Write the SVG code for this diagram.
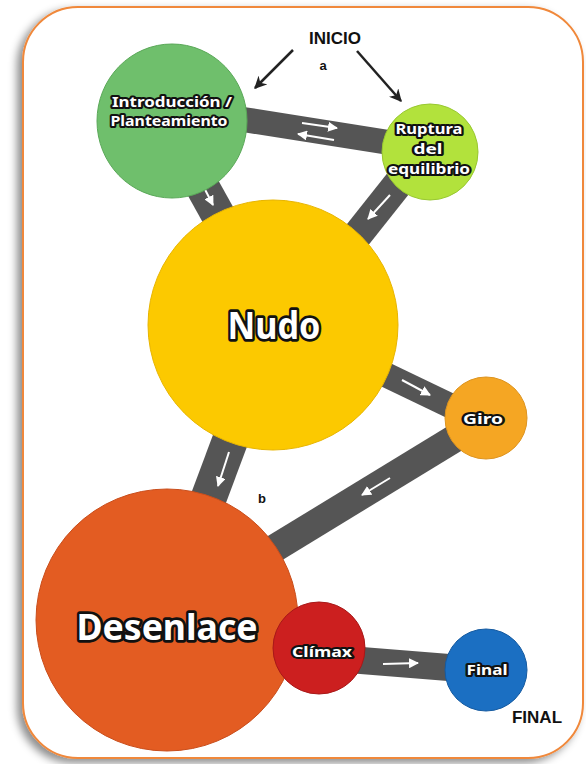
<svg xmlns="http://www.w3.org/2000/svg" width="586" height="764" viewBox="0 0 586 764">
<defs>
<filter id="sh" x="-10%" y="-10%" width="120%" height="120%">
<feGaussianBlur in="SourceAlpha" stdDeviation="4"/>
<feOffset dx="-5" dy="4" result="b"/>
<feFlood flood-color="#000" flood-opacity="0.45"/>
<feComposite in2="b" operator="in"/>
<feMerge><feMergeNode/><feMergeNode in="SourceGraphic"/></feMerge>
</filter>
<marker id="ab" viewBox="0 0 10 10" refX="9" refY="5" markerWidth="5" markerHeight="5" orient="auto" markerUnits="strokeWidth">
<path d="M0,0 L10,5 L0,10 L3,5 Z" fill="#222"/>
</marker>
<marker id="aw" viewBox="0 0 10 10" refX="9" refY="5" markerWidth="5" markerHeight="5" orient="auto" markerUnits="strokeWidth">
<path d="M0,0 L10,5 L0,10 Z" fill="#fff"/>
</marker>
<style>
.road{stroke:#555;stroke-linecap:butt;fill:none}
.wa{stroke:#fff;stroke-width:2;fill:none;marker-end:url(#aw)}
.ba{stroke:#222;stroke-width:2.5;fill:none;marker-end:url(#ab)}
.lbl{font-family:"Noto Sans","Open Sans",sans-serif;font-weight:bold;fill:#fff;stroke:#111;stroke-width:4;stroke-linejoin:round;paint-order:stroke;text-anchor:middle}
.big{stroke-width:5.5}
.plain{font-family:"Liberation Sans",Arial,sans-serif;font-weight:bold;fill:#111;text-anchor:middle}
</style>
</defs>
<rect x="23" y="7" width="560" height="751" rx="55" ry="55" fill="#fff" stroke="#f0883a" stroke-width="2" filter="url(#sh)"/>

<g id="connectors">
<line class="road" x1="240" y1="119" x2="392" y2="143" stroke-width="25"/>
<line class="road" x1="192" y1="168" x2="222" y2="222" stroke-width="34"/>
<line class="road" x1="405" y1="175" x2="355" y2="238" stroke-width="30"/>
<line class="road" x1="380" y1="372" x2="455" y2="408" stroke-width="25"/>
<line class="road" x1="234" y1="430" x2="206" y2="505" stroke-width="36"/>
<line class="road" x1="462" y1="434" x2="262" y2="556" stroke-width="28"/>
<line class="road" x1="355" y1="660" x2="455" y2="668" stroke-width="27"/>
<line class="wa" x1="302" y1="123" x2="337" y2="128"/>
<line class="wa" x1="334" y1="140" x2="298" y2="134"/>
<line class="wa" x1="198" y1="176" x2="213" y2="205"/>
<line class="wa" x1="390" y1="195" x2="368" y2="219"/>
<line class="wa" x1="402" y1="380" x2="430" y2="395"/>
<line class="wa" x1="229" y1="452" x2="218" y2="486"/>
<line class="wa" x1="390" y1="478" x2="362" y2="495"/>
<line class="wa" x1="383" y1="664" x2="418" y2="663"/>
<line class="ba" x1="293" y1="50" x2="255" y2="88"/>
<line class="ba" x1="357" y1="51" x2="401" y2="101"/>
</g>

<g id="introduccion">
<ellipse cx="172" cy="121" rx="75" ry="77" fill="#6fbf6c" stroke="#5aa858" stroke-width="1"/>
<text class="lbl" x="172" y="107" font-size="15" textLength="120" lengthAdjust="spacingAndGlyphs">Introducción /</text>
<text class="lbl" x="169" y="126" font-size="15" textLength="117" lengthAdjust="spacingAndGlyphs">Planteamiento</text>
</g>

<g id="ruptura">
<ellipse cx="430" cy="152" rx="48" ry="48" fill="#b2e23c" stroke="#98c830" stroke-width="1"/>
<text class="lbl" x="429" y="134" font-size="14" textLength="67" lengthAdjust="spacingAndGlyphs">Ruptura</text>
<text class="lbl" x="428" y="154" font-size="14" textLength="29" lengthAdjust="spacingAndGlyphs">del</text>
<text class="lbl" x="429" y="174" font-size="14" textLength="82" lengthAdjust="spacingAndGlyphs">equilibrio</text>
</g>

<g id="nudo">
<circle cx="273" cy="325" r="125" fill="#fcc900" stroke="#e8b500" stroke-width="1"/>
<text class="lbl big" x="274" y="339" font-size="38" textLength="93" lengthAdjust="spacingAndGlyphs">Nudo</text>
</g>

<g id="giro">
<circle cx="486" cy="418" r="41" fill="#f5a623" stroke="#dd9420" stroke-width="1"/>
<text class="lbl" x="483" y="424" font-size="14" textLength="40" lengthAdjust="spacingAndGlyphs">Giro</text>
</g>

<g id="desenlace">
<circle cx="167" cy="620" r="131" fill="#e35c22" stroke="#c94e1c" stroke-width="1"/>
<text class="lbl big" x="167" y="640" font-size="36" textLength="181" lengthAdjust="spacingAndGlyphs">Desenlace</text>
</g>

<g id="climax">
<circle cx="319" cy="648" r="46" fill="#cc1f1f" stroke="#a81818" stroke-width="1"/>
<text class="lbl" x="322" y="657" font-size="14" textLength="60" lengthAdjust="spacingAndGlyphs">Clímax</text>
</g>

<g id="final">
<circle cx="486" cy="670" r="41" fill="#1b6fc2" stroke="#155aa0" stroke-width="1"/>
<text class="lbl" x="487" y="675" font-size="14" textLength="41" lengthAdjust="spacingAndGlyphs">Final</text>
</g>

<g id="labels">
<text class="plain" x="335" y="44" font-size="17">INICIO</text>
<text class="plain" x="323" y="70" font-size="13">a</text>
<text class="plain" x="262" y="503" font-size="13">b</text>
<text class="plain" x="537" y="723" font-size="17">FINAL</text>
</g>
</svg>
